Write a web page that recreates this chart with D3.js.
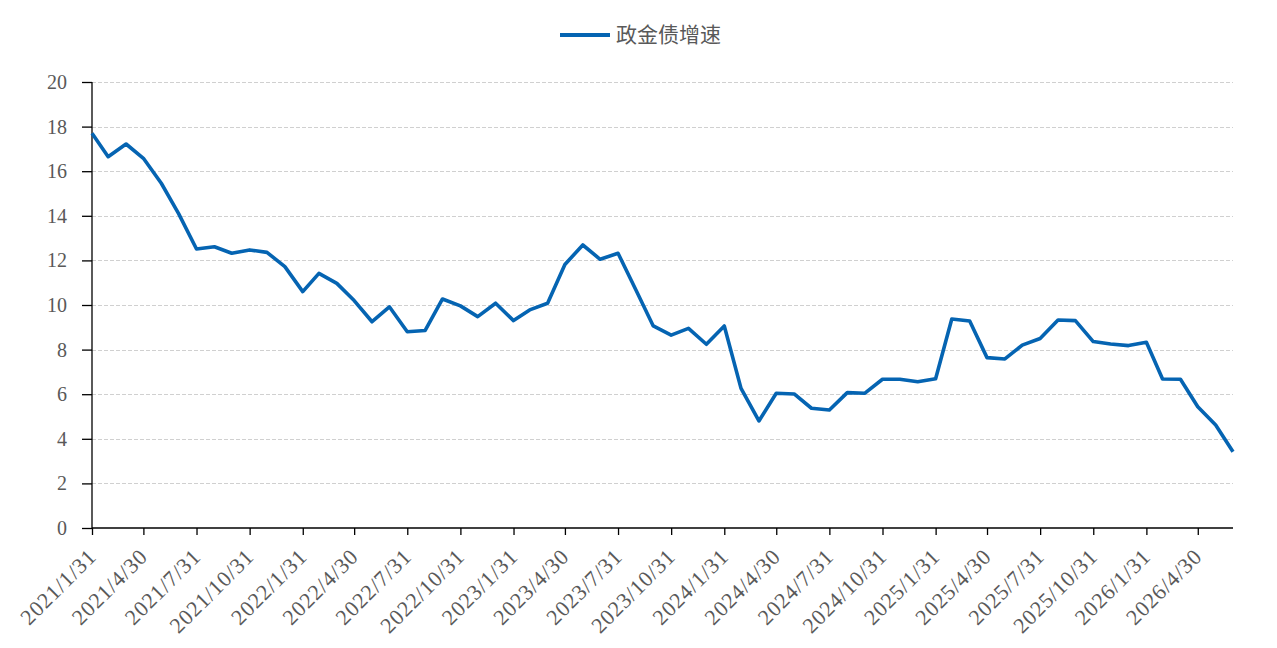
<!DOCTYPE html>
<html>
<head>
<meta charset="utf-8">
<script src="https://cdn.jsdelivr.net/npm/d3@7"></script>
<style>
  html, body { margin: 0; padding: 0; background: #fff; }
  svg { display: block; }
</style>
</head>
<body>
<svg id="chart" width="1277" height="648"></svg>
<script>
// ---- data ----
const seriesName = "政金债增速";
const dates = [
  "2021-01-31","2021-02-28","2021-03-31","2021-04-30","2021-05-31","2021-06-30",
  "2021-07-31","2021-08-31","2021-09-30","2021-10-31","2021-11-30","2021-12-31",
  "2022-01-31","2022-02-28","2022-03-31","2022-04-30","2022-05-31","2022-06-30",
  "2022-07-31","2022-08-31","2022-09-30","2022-10-31","2022-11-30","2022-12-31",
  "2023-01-31","2023-02-28","2023-03-31","2023-04-30","2023-05-31","2023-06-30",
  "2023-07-31","2023-08-31","2023-09-30","2023-10-31","2023-11-30","2023-12-31",
  "2024-01-31","2024-02-29","2024-03-31","2024-04-30","2024-05-31","2024-06-30",
  "2024-07-31","2024-08-31","2024-09-30","2024-10-31","2024-11-30","2024-12-31",
  "2025-01-31","2025-02-28","2025-03-31","2025-04-30","2025-05-31","2025-06-30",
  "2025-07-31","2025-08-31","2025-09-30","2025-10-31","2025-11-30","2025-12-31",
  "2026-01-31","2026-02-28","2026-03-31","2026-04-30","2026-05-31","2026-06-30"
];
const values = [
  17.70,16.65,17.22,16.58,15.46,14.10,
  12.51,12.61,12.32,12.47,12.36,11.72,
  10.60,11.42,10.97,10.20,9.25,9.92,
  8.80,8.86,10.27,9.96,9.48,10.08,
  9.30,9.78,10.08,11.82,12.69,12.05,
  12.32,10.67,9.06,8.65,8.95,8.24,
  9.06,6.26,4.80,6.04,6.01,5.37,
  5.29,6.07,6.04,6.67,6.67,6.56,
  6.69,9.37,9.28,7.64,7.58,8.20,
  8.50,9.33,9.30,8.36,8.25,8.18,
  8.33,6.68,6.67,5.44,4.62,3.42
];
const xTickLabels = [
  "2021/1/31","2021/4/30","2021/7/31","2021/10/31",
  "2022/1/31","2022/4/30","2022/7/31","2022/10/31",
  "2023/1/31","2023/4/30","2023/7/31","2023/10/31",
  "2024/1/31","2024/4/30","2024/7/31","2024/10/31",
  "2025/1/31","2025/4/30","2025/7/31","2025/10/31",
  "2026/1/31","2026/4/30"
];
const yTicks = [0,2,4,6,8,10,12,14,16,18,20];

// ---- layout ----
const svg = d3.select("#chart");
const M = { left: 92, right: 1233, top: 82, bottom: 528 };
const parse = d3.timeParse("%Y-%m-%d");
const parseTick = d3.timeParse("%Y/%m/%d");
const data = dates.map((d, i) => ({ date: parse(d), value: values[i] }));

const x = d3.scaleTime()
  .domain([parse(dates[0]), parse(dates[dates.length - 1])])
  .range([M.left, M.right]);
const y = d3.scaleLinear().domain([0, 20]).range([M.bottom, M.top]);

const textColor = "#595959";
const serif = "'Liberation Serif','Times New Roman',serif";

// grid
svg.append("g")
  .selectAll("line")
  .data(yTicks.filter(t => t > 0))
  .join("line")
  .attr("x1", M.left).attr("x2", M.right)
  .attr("y1", d => Math.round(y(d)) + 0.5).attr("y2", d => Math.round(y(d)) + 0.5)
  .attr("stroke", "#d0d0d0")
  .attr("stroke-width", 1)
  .attr("stroke-dasharray", "4,2");

// y axis
const yAxis = svg.append("g")
  .attr("transform", `translate(${M.left},0)`)
  .call(d3.axisLeft(y).tickValues(yTicks).tickSize(10).tickPadding(15).tickFormat(d3.format("d")));
yAxis.select(".domain").attr("stroke", "#000").attr("stroke-width", 1.3).attr("d", `M0,${M.top}V${M.bottom}`);
yAxis.selectAll(".tick line").attr("stroke", "#000").attr("stroke-width", 1.3);
yAxis.selectAll(".tick text")
  .attr("fill", textColor)
  .style("font-family", serif)
  .style("font-size", "20px");

// x axis
const tickDates = xTickLabels.map(s => parseTick(s));
const xAxis = svg.append("g")
  .attr("transform", `translate(0,${M.bottom})`)
  .call(d3.axisBottom(x).tickValues(tickDates).tickSize(7)
    .tickFormat((d, i) => xTickLabels[i]));
xAxis.select(".domain").attr("stroke", "#000").attr("stroke-width", 1.3).attr("d", `M${M.left},0H${M.right}`);
xAxis.selectAll(".tick line").attr("stroke", "#000").attr("stroke-width", 1.3);
xAxis.selectAll(".tick text")
  .attr("fill", textColor)
  .style("font-family", serif)
  .style("font-size", "22px")
  .style("letter-spacing", "0.8px")
  .attr("text-anchor", "end")
  .attr("dy", "0")
  .attr("y", 0).attr("x", 0)
  .attr("transform", "translate(5,30) rotate(-45)");

// line
svg.append("path")
  .datum(data)
  .attr("fill", "none")
  .attr("stroke", "#0564B2")
  .attr("stroke-width", 3.6)
  .attr("stroke-linejoin", "round")
  .attr("d", d3.line().x(d => x(d.date)).y(d => y(d.value)));

// legend
const lg = svg.append("g");
lg.append("line")
  .attr("x1", 560).attr("x2", 610).attr("y1", 35).attr("y2", 35)
  .attr("stroke", "#0564B2").attr("stroke-width", 4);
lg.append("text")
  .attr("x", 616).attr("y", 42)
  .attr("fill", textColor)
  .style("font-family", "'Noto Sans CJK SC',sans-serif")
  .style("font-size", "21px")
  .text(seriesName);
</script>
</body>
</html>
